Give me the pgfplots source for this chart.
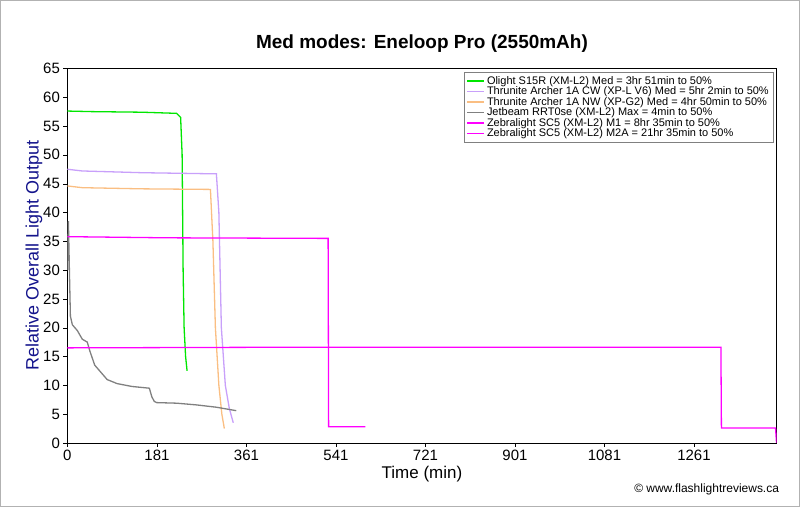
\documentclass[border=0pt]{standalone}
\usepackage{pgfplots}
\pgfplotsset{compat=1.18}
\usepackage{fontspec}
\setmainfont{Liberation Sans}
\definecolor{cgreen}{RGB}{0,230,0}
\definecolor{cpurple}{RGB}{200,160,250}
\definecolor{corange}{RGB}{250,190,130}
\definecolor{cgray}{RGB}{128,128,128}
\definecolor{cmag}{RGB}{255,0,255}
\definecolor{ylab}{RGB}{20,20,140}
\begin{document}
\begin{tikzpicture}
\path[use as bounding box, draw=gray!60, line width=1pt] (0,0) rectangle (800pt,507pt);
\begin{axis}[at={(67pt,64pt)}, anchor=south west, scale only axis,
 width=710pt, height=375pt,
 xmin=0, xmax=1428, ymin=0, ymax=65,
 xtick={0,180.25,360.5,540.75,721,901.25,1081.5,1261.75},
 xticklabels={0,181,361,541,721,901,1081,1261},
 ytick={0,5,...,65},
 /pgf/number format/assume math mode=true,
 tick style={black}, tick align=outside, major tick length=4pt,
 xtick pos=bottom, ytick pos=left,
 ticklabel style={font=\fontsize{15}{17}\selectfont},
 xlabel={Time (min)}, ylabel={Relative Overall Light Output},
 xlabel style={font=\fontsize{17}{19}\selectfont, yshift=2pt},
 ylabel style={font=\fontsize{18}{20}\selectfont, color=ylab, yshift=-6pt},
 title={\textbf{Med modes: Eneloop Pro (2550mAh)}},
 title style={font=\fontsize{19}{23}\selectfont, yshift=6pt},
 legend style={at={(0.995,0.99)}, anchor=north east, font=\fontsize{11}{13}\selectfont, draw=gray, row sep=-3pt, inner sep=2pt},
 legend cell align=left,
]
\addplot[cgreen, line width=1.3pt] coordinates {(0,57.6)(50,57.5)(150,57.4)(220,57.2)(228,56.5)(231,50)(233,30)(235,20)(238,15)(241,12.5)};
\addlegendentry{Olight S15R (XM-L2) Med = 3hr 51min to 50\%}
\addplot[cpurple, line width=1.3pt] coordinates {(0,47.5)(30,47.2)(150,46.9)(300,46.7)(305,40)(310,20)(318,10)(326,6)(334,3.5)};
\addlegendentry{Thrunite Archer 1A CW (XP-L V6) Med = 5hr 2min to 50\%}
\addplot[corange, line width=1.3pt] coordinates {(0,44.6)(30,44.3)(150,44.1)(288,44)(293,35)(298,20)(305,10)(311,5)(316,2.5)};
\addlegendentry{Thrunite Archer 1A NW (XP-G2) Med = 4hr 50min to 50\%}
\addplot[cgray, line width=1.3pt] coordinates {(0,30)(2,38.5)(4,30)(6,22)(10,20.5)(20,19.5)(30,18)(40,17.5)(45,16)(55,13.5)(65,12.5)(80,11)(100,10.3)(130,9.8)(165,9.5)(170,8)(175,7.2)(180,7)(220,6.9)(260,6.6)(300,6.2)(340,5.6)};
\addlegendentry{Jetbeam RRT0se (XM-L2) Max = 4min to 50\%}
\addplot[cmag, line width=1.3pt] coordinates {(0,35.8)(200,35.6)(525,35.5)(526,2.8)(600,2.8)};
\addlegendentry{Zebralight SC5 (XM-L2) M1 = 8hr 35min to 50\%}
\addplot[cmag, line width=1.3pt] coordinates {(0,16.5)(400,16.6)(800,16.6)(1316,16.6)(1317,2.6)(1426,2.6)(1428,0)};
\addlegendentry{Zebralight SC5 (XM-L2) M2A = 21hr 35min to 50\%}
\end{axis}
\node[anchor=south east, font=\fontsize{12}{14}\selectfont] at (783pt,8pt) {© www.flashlightreviews.ca};
\end{tikzpicture}
\end{document}
